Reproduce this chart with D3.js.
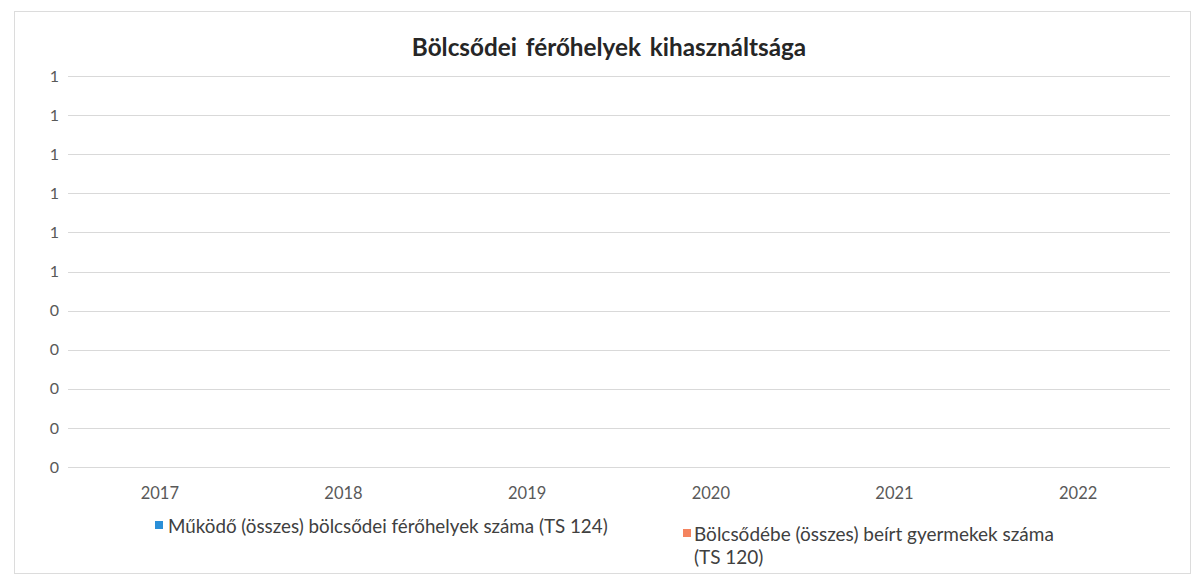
<!DOCTYPE html>
<html>
<head>
<meta charset="utf-8">
<script src="https://cdn.jsdelivr.net/npm/d3@7"></script>
<style>
  html, body { margin: 0; padding: 0; background: #ffffff; }
  svg { display: block; }
</style>
</head>
<body>
<svg id="chart" width="1194" height="577"></svg>
<script>
// ---- data ----
const title = "Bölcsődei férőhelyek kihasználtsága";
const categories = ["2017", "2018", "2019", "2020", "2021", "2022"];
const seriesNames = [
  "Működő (összes) bölcsődei férőhelyek száma (TS 124)",
  "Bölcsődébe (összes) beírt gyermekek száma (TS 120)"
];
const placesValues = [0, 0, 0, 0, 0, 0];
const enrolledValues = [0, 0, 0, 0, 0, 0];
const yTickValues = [0, 0.1, 0.2, 0.3, 0.4, 0.5, 0.6, 0.7, 0.8, 0.9, 1.0];
const seriesColors = ["#2a8fd8", "#f4845f"];

// ---- layout ----
const svg = d3.select("#chart");
const W = 1194, H = 577;
const plot = { left: 68, right: 1170, top: 76, bottom: 467 };
const FONT = "Lato, 'Open Sans', sans-serif";

function fitWidth(sel, target, base) {
  const w = sel.node().getComputedTextLength();
  if (w > 0) sel.attr("font-size", base * target / w);
}

svg.append("rect").attr("x", 0).attr("y", 0).attr("width", W).attr("height", H).attr("fill", "#ffffff");
svg.append("rect")
  .attr("x", 14.5).attr("y", 11.5).attr("width", 1176).attr("height", 562)
  .attr("fill", "none").attr("stroke", "#dcdcdc").attr("stroke-width", 1);

const x = d3.scaleBand().domain(categories).range([plot.left, plot.right]).paddingInner(0.3).paddingOuter(0.15);
const y = d3.scaleLinear().domain([0, 1]).range([plot.bottom, plot.top]);

// gridlines
svg.append("g")
  .selectAll("line")
  .data(yTickValues)
  .join("line")
  .attr("x1", plot.left).attr("x2", plot.right)
  .attr("y1", d => Math.round(y(d)) + 0.5).attr("y2", d => Math.round(y(d)) + 0.5)
  .attr("stroke", "#d9d9d9").attr("stroke-width", 1);

// y axis labels
const yAxis = d3.axisLeft(y).tickValues(yTickValues).tickSize(0).tickPadding(0)
  .tickFormat(d => String(Math.round(d)));
const gy = svg.append("g").attr("transform", `translate(${plot.left - 9},0)`).call(yAxis);
gy.select(".domain").remove();
gy.selectAll("text").attr("font-family", FONT).attr("font-size", 16).attr("fill", "#595959");

// x axis labels
const xAxis = d3.axisBottom(x).tickSize(0).tickPadding(0);
const gx = svg.append("g").attr("transform", `translate(0,${plot.bottom + 20})`).call(xAxis);
gx.select(".domain").remove();
gx.selectAll("text").attr("font-family", FONT).attr("font-size", 16.5).attr("fill", "#595959");

// bars (all values are zero)
const sub = d3.scaleBand().domain([0, 1]).range([0, x.bandwidth()]);
const series = [placesValues, enrolledValues];
series.forEach((vals, i) => {
  svg.append("g").selectAll("rect")
    .data(vals.map((v, j) => ({ cat: categories[j], v })))
    .join("rect")
    .attr("x", d => x(d.cat) + sub(i))
    .attr("width", sub.bandwidth())
    .attr("y", d => y(d.v))
    .attr("height", d => y(0) - y(d.v))
    .attr("fill", seriesColors[i]);
});

// title
const tt = svg.append("text")
  .attr("x", 609).attr("y", 56)
  .attr("text-anchor", "middle")
  .attr("font-family", FONT).attr("font-weight", 700).attr("font-size", 20)
  .attr("fill", "#262626")
  .attr("word-spacing", 3)
  .text(title);
fitWidth(tt, 396, 20);

// legend
const leg = svg.append("g").attr("font-family", FONT).attr("fill", "#404040");
leg.append("rect").attr("x", 155).attr("y", 521).attr("width", 8).attr("height", 8).attr("fill", seriesColors[0]);
const t1 = leg.append("text").attr("x", 168).attr("y", 533).attr("font-size", 16).text(seriesNames[0]);
fitWidth(t1, 440, 16);

leg.append("rect").attr("x", 683).attr("y", 529).attr("width", 8).attr("height", 8).attr("fill", seriesColors[1]);
const t2 = leg.append("text").attr("x", 694).attr("y", 541).attr("font-size", 16);
const l1 = t2.append("tspan").attr("x", 694).attr("dy", 0).text("Bölcsődébe (összes) beírt gyermekek száma");
t2.append("tspan").attr("x", 694).attr("dy", "1.2em").text("(TS 120)");
const w2 = l1.node().getComputedTextLength();
if (w2 > 0) t2.attr("font-size", 16 * 360 / w2);
</script>
</body>
</html>
